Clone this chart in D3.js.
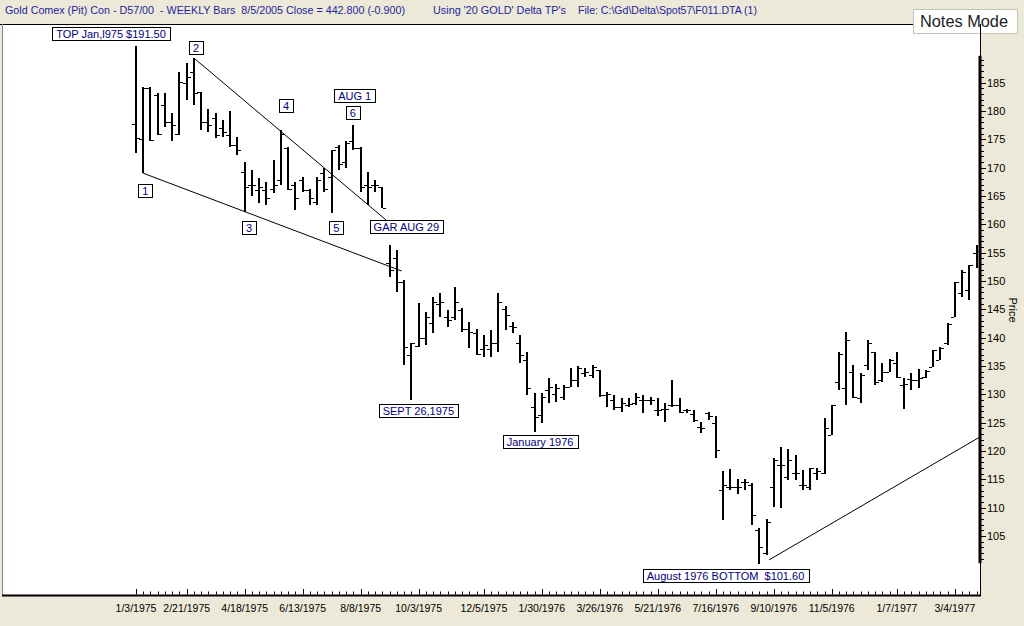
<!DOCTYPE html>
<html><head><meta charset="utf-8">
<script src="https://cdn.jsdelivr.net/npm/d3@7"></script>
<style>
body{margin:0;background:#ECE9D8;overflow:hidden;}
svg{display:block;font-family:"Liberation Sans",Arial,sans-serif;}
text{white-space:pre;}
</style>
</head><body>
<svg id="chart" width="1024" height="626"></svg>
<script>
// ---------- DATA ----------
const firstBarDate = "1/3/1975";   // weekly bars, one per week
const opens  = [177.7,175,184,182.8,181,178,176.0,185,186.9,183.4,178,178.7,177,175.7,174,169.3,167,166,166,166.3,167.8,173.4,167,167.8,166.0,164,169.0,168.4,173.7,171,174.6,173.4,167,167,166.6,153.1,154,149.9,137,138.5,140,142.5,146,143.7,143.7,144.9,141.6,140.8,138,138,139.0,145,142,139,136,127.8,126.4,130.8,130,129.6,131.3,132.5,133.7,133.5,134.3,129.9,129,127.8,128.1,128.5,129,129,127.2,127.5,128.1,128.1,127.2,126.5,124.3,126.7,124.9,113.1,113.6,113.7,114.6,114,106,102.0,113.7,117.5,115.5,116.1,114.0,113.7,116.2,116.1,122.8,132.2,131.1,134.0,129.3,135.2,137.5,132.5,134.0,135.6,131.6,132.7,132.5,133.1,134.9,136.1,139.0,143.7,147.8,148.4,154.9];
const highs  = [191.5,184.2,184.2,183.1,183.1,179.6,186.9,188.4,189.3,183.4,180.4,179.6,178.4,179.9,175.4,171.0,169.6,168.1,167.5,171.4,176.6,173.7,167.5,168.4,166.3,168.4,169.9,173.1,174.0,174.6,177.5,173.7,169.3,167.8,166.6,156.3,155.5,150.2,139.1,146.1,144.6,147.2,147.8,144.9,149.0,145.2,142.8,141.6,140.5,141.3,147.9,145.5,142.8,140.5,137.5,130.2,130.2,132.8,131.9,131.6,134.6,135.0,134.6,135.2,134.3,130.5,129.9,129.3,129.3,130.2,129.9,129.6,129.3,128.4,132.5,129.3,127.5,127.2,125.2,126.9,126.1,116.4,116.8,115.0,115.0,114.3,106.4,108.0,118.7,120.8,120.3,119.3,116.7,117.0,117.0,125.8,128.1,137.5,141.0,135.2,133.7,139.6,137.5,135.5,136.2,137.5,132.8,133.7,134.4,134.3,137.8,138.4,142.5,149.9,151.9,152.8,156.3];
const lows   = [172.5,169.0,174.6,175.7,177.2,174.6,175.7,181.9,181.0,176.6,176.3,175.2,175.4,173.7,172.2,162.2,164.9,163.7,163.4,165.5,166.9,166.0,162.5,165.7,163.4,163.4,165.7,161.9,169.6,169.9,173.1,165.7,163.4,165.7,162.8,150.7,148.1,135.2,129.0,138.4,138.7,140.8,143.7,141.9,143.1,141.0,138.1,136.9,136.6,136.6,137.5,141.3,140.8,135.5,129.9,123.4,124.9,128.4,128.7,129.0,131.3,131.3,133.1,132.8,129.6,127.8,127.2,126.9,127.8,128.1,126.7,128.1,126.1,125.2,127.8,126.7,126.7,125.2,123.1,125.5,118.7,107.8,113.1,112.5,113.1,107.0,100.0,101.7,110.2,109.9,114.9,114.9,113.1,113.1,114.9,116.0,122.8,130.8,128.1,129.3,128.4,134.3,131.6,132.2,134.0,132.8,127.5,130.8,131.1,132.8,134.9,136.1,138.7,143.7,147.2,146.6,152.2];
const closes = [175.2,184.0,174.9,176.0,178.1,177.5,185.1,186.0,183.1,178.1,177.5,175.7,176.3,174.0,173.1,166.6,166.9,166.6,164.6,166.9,176.0,166.3,164.6,166.0,164.6,167.8,166.3,173.1,170.7,174.3,173.4,166.6,166.6,166.9,162.8,152,149.9,138.4,139.0,139.9,143.7,146.3,146.3,143.1,146.3,141.6,141,137.2,138.7,139.0,146.3,144.0,141.9,136.9,131.1,126,129.6,131.3,131.1,131.3,132.5,134.6,133.9,134.8,129.9,130,127.8,128.5,128.3,129.6,129.0,129.0,127.2,127.5,128.1,126.9,127.2,125.5,124,126.2,120.2,114,113.6,113.7,114.6,108.7,103.1,107.5,118.5,117.5,118.4,116.1,114.0,117.0,116.5,124.0,128.1,137.1,139.6,129.6,133.4,139.1,132.2,134.0,136.1,133.1,131.8,132.5,132.8,134.2,137.8,138.1,142.4,149.9,151.5,152.8,155.2];
const dateTickLabels = ["1/3/1975","2/21/1975","4/18/1975","6/13/1975","8/8/1975","10/3/1975","12/5/1975","1/30/1976","3/26/1976","5/21/1976","7/16/1976","9/10/1976","11/5/1976","1/7/1977","3/4/1977"];
const priceTickLabels = [105,110,115,120,125,130,135,140,145,150,155,160,165,170,175,180,185];
// annotation boxes: text, anchor (bar index, price) of the box centre
const noteTexts  = ["TOP Jan,l975 $191.50","2","1","3","4","5","6","AUG 1","GAR AUG 29","SEPT 26,1975","January 1976","August 1976 BOTTOM  $101.60"];
const noteBars   = [-3.45,8.28,1.27,15.6,20.72,27.64,29.92,30.18,37.3,38.96,55.75,81.34];
const notePrices = [193.55,191.15,165.95,159.4,180.8,159.3,179.7,182.6,159.6,127.0,121.6,97.9];
// trend lines: [barIndex0, price0, barIndex1, price1]
const trendLines = [[1,169.0,36.66,151.75],[8,189.3,34.5,160.75],[87.35,100.8,116.46,122.5]];
const headerTexts = ["Gold Comex (Pit) Con - D57/00  - WEEKLY Bars  8/5/2005 Close = 442.800 (-0.900)","Using '20 GOLD' Delta TP's","File: C:\\Gd\\Delta\\Spot57\\F011.DTA (1)"];

// ---------- SETUP ----------
const W=1024,H=626;
const svg=d3.select("#chart");
const parse=d3.timeParse("%m/%d/%Y");
const d0=parse(firstBarDate);
const nBars=opens.length;
const barDate=i=>new Date(d0.getTime()+i*7*864e5);
const plot={l:2,t:24,r:980,b:596};
const x=d3.scaleTime().domain([d0,barDate(nBars-1)]).range([136,976.7]);
const y=d3.scaleLinear().domain([100,190]).range([564.45,54.15]);
const xi=i=>x(barDate(i));

svg.append("rect").attr("width",W).attr("height",H).attr("fill","#ECE9D8");
svg.append("rect").attr("x",plot.l).attr("y",plot.t).attr("width",plot.r-plot.l).attr("height",plot.b-plot.t).attr("fill","#fff");
svg.append("line").attr("x1",0).attr("x2",913).attr("y1",plot.t+0.5).attr("y2",plot.t+0.5).attr("stroke","#000").attr("stroke-width",1);
svg.append("line").attr("x1",plot.l+0.5).attr("x2",plot.l+0.5).attr("y1",plot.t).attr("y2",plot.b).attr("stroke","#888").attr("stroke-width",1);

// header
const hdr=svg.append("g").attr("font-size",11).attr("fill","#1f1fa0");
const hx=[5,433,578], hw=[400,133,179];
headerTexts.forEach((t,i)=>hdr.append("text").attr("x",hx[i]).attr("y",14).attr("textLength",hw[i]).attr("lengthAdjust","spacingAndGlyphs").text(t));

// notes mode box
svg.append("rect").attr("x",913.5).attr("y",9.5).attr("width",104).attr("height",24).attr("fill","#fff").attr("stroke","#c8c4b4");
svg.append("text").attr("x",920).attr("y",27).attr("font-size",16).attr("fill","#222").attr("textLength",88).attr("lengthAdjust","spacingAndGlyphs").text("Notes Mode");

// ---------- BARS ----------
const bars=svg.append("g").attr("stroke","#000").attr("shape-rendering","crispEdges");
d3.range(nBars).forEach(i=>{
  const cx=Math.round(xi(i));
  bars.append("line").attr("x1",cx).attr("x2",cx).attr("y1",Math.round(y(highs[i]))).attr("y2",Math.round(y(lows[i]))).attr("stroke-width",2);
  const yo=Math.round(y(opens[i]))+0.5, yc=Math.round(y(closes[i]))+0.5;
  bars.append("line").attr("x1",cx-4).attr("x2",cx-1).attr("y1",yo).attr("y2",yo).attr("stroke-width",1);
  bars.append("line").attr("x1",cx+1).attr("x2",cx+4).attr("y1",yc).attr("y2",yc).attr("stroke-width",1);
});

// trend lines
svg.append("g").selectAll("line").data(trendLines).join("line")
  .attr("x1",d=>xi(d[0])).attr("y1",d=>y(d[1])).attr("x2",d=>xi(d[2])).attr("y2",d=>y(d[3]))
  .attr("stroke","#000").attr("stroke-width",1);

// ---------- AXES ----------
// bottom axis
const ax=svg.append("g");
ax.append("line").attr("x1",plot.l).attr("x2",plot.r+1).attr("y1",595.5).attr("y2",595.5).attr("stroke","#000").attr("stroke-width",2);
const tickIdx=dateTickLabels.map(s=>Math.round((parse(s)-d0)/(7*864e5)));
d3.range(nBars).forEach(i=>{
  const cx=Math.round(xi(i))+0.5;
  const major=tickIdx.includes(i);
  ax.append("line").attr("x1",cx).attr("x2",cx).attr("y1",594.5).attr("y2",major?589:591.5).attr("stroke","#000").attr("stroke-width",1);
});
ax.selectAll("text").data(dateTickLabels).join("text")
  .attr("x",s=>x(parse(s))).attr("y",612).attr("text-anchor","middle").attr("font-size",10.5).attr("fill","#000").text(s=>s);

// right axis
const ay=svg.append("g");
ay.append("line").attr("x1",980.5).attr("x2",980.5).attr("y1",plot.t).attr("y2",plot.b).attr("stroke","#000").attr("stroke-width",1);
ay.append("line").attr("x1",980).attr("x2",980).attr("y1",y(189.7)).attr("y2",y(100.2)).attr("stroke","#000").attr("stroke-width",3);
d3.range(101,190).forEach(v=>{
  const yy=Math.round(y(v))+0.5;
  const major=v%5===0;
  ay.append("line").attr("x1",981).attr("x2",major?986:984).attr("y1",yy).attr("y2",yy).attr("stroke","#000").attr("stroke-width",1).attr("shape-rendering","crispEdges");
});
ay.selectAll("text").data(priceTickLabels).join("text")
  .attr("x",987).attr("y",v=>y(v)+4).attr("font-size",11).attr("fill","#000").text(v=>v);
svg.append("text").attr("transform","translate(1009,310) rotate(90)").attr("text-anchor","middle").attr("font-size",11).attr("fill","#000").text("Price");

// ---------- ANNOTATIONS ----------
const notes=svg.append("g");
noteTexts.forEach((t,i)=>{
  const cx=xi(noteBars[i]), cy=y(notePrices[i]);
  const g=notes.append("g");
  const rect=g.append("rect");
  const tx=g.append("text").attr("x",cx).attr("y",cy+4).attr("text-anchor","middle").attr("font-size",11).attr("fill","#000080").text(t);
  const w=tx.node().getComputedTextLength()+8;
  const bw=Math.round(w), bx=Math.round(cx-w/2)+0.5, by=Math.round(cy-7)+0.5;
  rect.attr("x",bx).attr("y",by).attr("width",bw).attr("height",13).attr("fill","#fff").attr("stroke","#000").attr("stroke-width",1);
});
</script>
</body></html>
